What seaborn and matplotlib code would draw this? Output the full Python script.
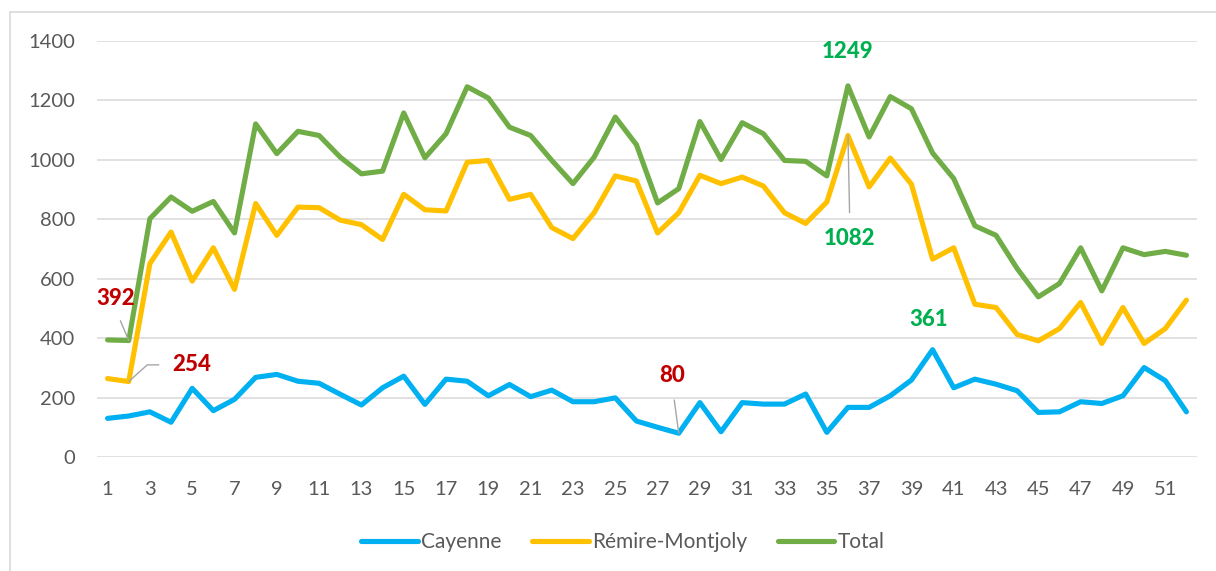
import pandas as pd
import seaborn as sns
import matplotlib.pyplot as plt
from matplotlib.lines import Line2D

# weekly counts
weeks = list(range(1, 53))
cayenne = [130, 138, 152, 117, 231, 156, 194, 268, 278, 255,
           248, 211, 175, 233, 272, 177, 262, 255, 206, 244,
           203, 225, 186, 186, 199, 121, 100, 80, 183, 85,
           183, 178, 178, 212, 83, 167, 167, 206, 259, 361,
           233, 262, 245, 223, 150, 152, 186, 180, 206, 301, 257, 152]
remire = [264, 254, 651, 757, 592, 704, 564, 853, 746, 841,
          839, 797, 782, 732, 884, 832, 828, 992, 998, 867,
          884, 772, 735, 822, 946, 929, 754, 822, 948, 920,
          942, 912, 822, 786, 858, 1082, 909, 1006, 918, 666,
          704, 514, 503, 412, 391, 432, 520, 382, 503, 382, 432, 528]
total = [394, 392, 802, 875, 827, 860, 754, 1121, 1021, 1096,
         1082, 1009, 953, 962, 1158, 1007, 1088, 1246, 1208, 1110,
         1082, 998, 920, 1009, 1144, 1051, 855, 903, 1129, 1001,
         1125, 1088, 998, 995, 946, 1249, 1077, 1213, 1172, 1023,
         937, 778, 746, 634, 539, 584, 704, 559, 704, 681, 692, 679]

series = ["Cayenne", "Rémire-Montjoly", "Total"]
colors = {"Cayenne": "#00B0F0", "Rémire-Montjoly": "#FFC000", "Total": "#70AD47"}

df = pd.DataFrame({
    "week": weeks * 3,
    "count": cayenne + remire + total,
    "zone": [s for s in series for _ in weeks],
})

sns.set_style("white")
plt.rcParams["font.family"] = ["Lato", "DejaVu Sans"]
text_grey = "#595959"
grid_grey = "#D9D9D9"

fig = plt.figure(figsize=(12.16, 5.71), dpi=100)
ax = fig.add_axes([97 / 1216, 114 / 571, 1100 / 1216, 416 / 571])

sns.lineplot(data=df, x="week", y="count", hue="zone", hue_order=series,
             palette=colors, linewidth=3.7, legend=False, ax=ax,
             solid_joinstyle="round", solid_capstyle="round")

ax.set_xlim(0.5, 52.5)
ax.set_ylim(0, 1400)
ax.set_xticks(range(1, 52, 2))
ax.set_yticks(range(0, 1401, 200))
ax.set_xlabel("")
ax.set_ylabel("")
ax.yaxis.grid(True, color=grid_grey, linewidth=1.1)
ax.set_axisbelow(True)
for side in ["top", "right", "left", "bottom"]:
    ax.spines[side].set_visible(False)
ax.tick_params(axis="y", length=0, pad=16, labelsize=14.5, labelcolor=text_grey)
ax.tick_params(axis="x", length=0, pad=17, labelsize=14.5, labelcolor=text_grey)

# data labels
red = "#C00000"
green = "#00B050"
lead = dict(arrowstyle="-", color="#A6A6A6", lw=1)
lab = dict(textcoords="offset points", ha="center", va="center",
           fontsize=16, fontweight="black")

ax.annotate(str(total[1]), xy=(2, total[1]), xytext=(-9.7, 30.6), color=red,
            arrowprops=dict(lead, relpos=(0.5, 0), shrinkA=7, shrinkB=0), **lab)
ax.annotate(str(remire[1]), xy=(2, remire[1]), xytext=(45, 12), color=red,
            arrowprops=dict(lead, relpos=(0, 0.5), shrinkA=7, shrinkB=0,
                            connectionstyle="angle,angleA=0,angleB=42,rad=0"), **lab)
ax.annotate(str(cayenne[27]), xy=(28, cayenne[27]), xytext=(-4.6, 41.8), color=red,
            arrowprops=dict(lead, relpos=(0.5, 0), shrinkA=8, shrinkB=0), **lab)
ax.annotate(str(total[35]), xy=(36, total[35]), xytext=(0, 24.5), color=green, **lab)
ax.annotate(str(remire[35]), xy=(36, remire[35]), xytext=(1.4, -74.5), color=green,
            arrowprops=dict(lead, relpos=(0.5, 1), shrinkA=9, shrinkB=0), **lab)
ax.annotate(str(cayenne[39]), xy=(40, cayenne[39]), xytext=(-2.7, 22.1), color=green, **lab)

handles = [Line2D([], [], color=colors[s], linewidth=3.7, solid_capstyle="round") for s in series]
leg = fig.legend(handles, series, loc="center", bbox_to_anchor=(623 / 1216, 29 / 571),
                 ncol=3, frameon=False, fontsize=15, handlelength=2.7,
                 handletextpad=0.15, columnspacing=1.5)
for t in leg.get_texts():
    t.set_color(text_grey)

# chart frame (left and top edges visible in the crop)
fig.add_artist(Line2D([10 / 1216, 10 / 1216], [0, 1 - 12 / 571], color=grid_grey, lw=1.2))
fig.add_artist(Line2D([10 / 1216, 1], [1 - 12 / 571, 1 - 12 / 571], color=grid_grey, lw=1.2))

fig.savefig("out.png", dpi=100)
plt.close(fig)
